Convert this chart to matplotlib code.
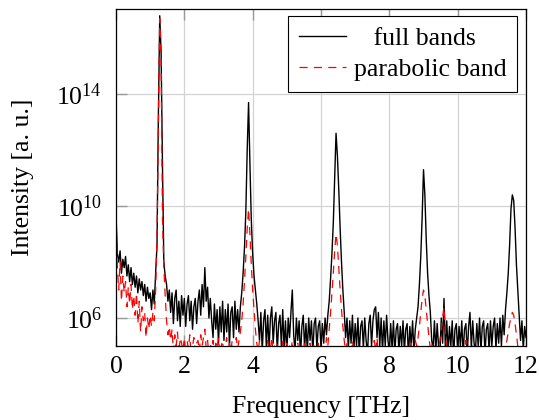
import numpy as np
import matplotlib
matplotlib.use('Agg')
import matplotlib.pyplot as plt

# FONTES (serif tipo Times)
plt.rcParams['font.family'] = ['Liberation Serif', 'DejaVu Serif']
plt.rcParams['mathtext.fontset'] = 'custom'
plt.rcParams['mathtext.rm'] = 'Liberation Serif'
plt.rcParams['mathtext.it'] = 'Liberation Serif:italic'
plt.rcParams['font.size'] = 18.5

# FREQUENCIAS (passo 0.04 THz)
freq = np.linspace(0, 12, 301)

# INTENSIDADE - log10
log_full = [
    9.7, 8.3, 8.0, 8.4, 7.6, 8.1, 7.8, 8.2, 7.5, 7.9,
    7.3, 7.8, 7.2, 7.6, 7.1, 7.5, 6.9, 7.4, 7.0, 7.3,
    6.8, 7.2, 6.6, 7.1, 6.7, 6.9, 6.3, 7.0, 6.5, 7.6,
    8.6, 13.2, 16.8, 15.5, 11.5, 8.0, 7.5, 7.2, 6.6, 7.0,
    6.2, 6.9, 5.8, 6.7, 7.0, 5.9, 6.6, 5.7, 6.8, 6.1,
    6.7, 5.7, 6.5, 6.8, 5.9, 6.6, 5.6, 6.4, 6.7, 5.8,
    6.6, 7.0, 6.1, 7.2, 6.4, 7.8, 6.6, 7.1, 6.0, 6.7,
    5.9, 5.3, 6.5, 5.6, 6.3, 5.1, 6.4, 5.5, 6.6, 5.2,
    6.3, 5.5, 6.5, 5.0, 6.2, 6.4, 5.3, 6.6, 5.6, 6.3,
    5.5, 6.4, 6.9, 7.6, 8.5, 9.8, 12.0, 13.7, 11.5, 9.5,
    8.3, 7.5, 7.0, 6.5, 5.9, 5.2, 6.2, 4.8, 5.9, 6.3,
    5.0, 6.1, 4.9, 6.0, 6.4, 5.1, 5.9, 6.2, 4.8, 5.8,
    6.1, 5.0, 6.3, 4.9, 5.9, 4.7, 6.0, 5.3, 6.2, 7.0,
    5.4, 4.8, 6.0, 5.2, 5.9, 4.6, 5.7, 6.1, 4.9, 5.8,
    4.8, 6.0, 5.2, 5.9, 4.7, 5.8, 6.0, 4.9, 5.7, 5.9,
    4.9, 5.8, 5.1, 6.0, 5.4, 6.1, 6.6, 7.4, 8.3, 9.4,
    11.0, 12.6, 11.8, 10.6, 9.2, 8.0, 7.0, 6.2, 5.3, 6.0,
    4.9, 5.9, 5.1, 6.1, 4.8, 5.8, 5.0, 6.0, 4.7, 5.7,
    5.9, 4.9, 6.0, 5.2, 4.7, 5.8, 6.1, 5.0, 5.9, 6.3,
    6.4, 5.3, 6.2, 5.0, 6.0, 4.8, 5.9, 5.0, 6.1, 5.2,
    4.8, 5.8, 4.9, 5.9, 4.7, 5.6, 5.8, 4.8, 5.7, 5.0,
    5.9, 4.8, 5.6, 5.8, 4.6, 5.7, 5.0, 5.9, 4.8, 5.6,
    6.0, 6.4, 7.2, 8.2, 9.6, 11.3, 10.4, 8.8, 7.6, 6.8,
    6.2, 5.2, 4.9, 5.9, 4.8, 5.8, 5.0, 4.7, 6.0, 5.1,
    6.7, 4.9, 5.9, 4.8, 5.7, 5.0, 5.9, 4.6, 5.6, 5.8,
    4.8, 5.7, 5.0, 5.9, 4.7, 5.6, 5.8, 4.7, 5.7, 6.2,
    4.9, 5.9, 5.1, 4.8, 5.8, 5.0, 6.0, 4.8, 5.7, 5.9,
    4.7, 5.6, 5.8, 4.8, 5.9, 5.0, 5.7, 6.0, 4.9, 5.8,
    5.1, 6.0, 5.0, 6.1, 5.4, 6.3, 6.9, 7.6, 8.6, 9.9,
    10.4, 10.2, 9.2, 7.9, 7.0, 6.1, 5.2, 5.9, 4.9, 5.7,
    5.3,
]

log_parab = [
    9.6, 7.8, 7.0, 8.0, 6.6, 7.5, 6.9, 7.3, 6.4, 7.1,
    6.5, 7.2, 6.3, 6.8, 6.1, 6.9, 5.8, 6.6, 5.5, 6.4,
    5.9, 6.2, 5.3, 6.0, 5.6, 6.1, 5.7, 6.2, 5.9, 7.0,
    8.8, 12.8, 16.7, 15.2, 9.6, 7.8, 6.8, 5.9, 5.4, 5.7,
    5.2, 5.6, 4.8, 5.4, 5.0, 5.5, 4.7, 5.3, 5.1, 4.8,
    5.3, 4.7, 5.2, 4.9, 5.4, 4.6, 5.0, 5.3, 4.8, 5.1,
    5.2, 4.8, 5.4, 5.0, 5.3, 5.6, 4.9, 5.2, 4.7, 5.1,
    4.8, 5.2, 4.6, 5.1, 4.9, 5.3, 4.7, 5.0, 5.2, 4.6,
    5.0, 5.3, 4.7, 5.1, 4.8, 5.2, 4.6, 5.0, 5.3, 4.9,
    5.2, 5.5, 5.9, 6.5, 7.3, 8.2, 9.2, 9.9, 9.0, 7.9,
    7.0, 6.3, 5.6, 5.1, 4.8, 5.2, 4.7, 5.0, 4.6, 5.1,
    4.8, 5.2, 4.6, 4.9, 5.3, 4.7, 5.0, 4.5, 5.1, 4.8,
    5.0, 4.6, 5.2, 4.8, 4.5, 5.1, 4.7, 5.0, 4.8, 5.2,
    4.7, 5.0, 4.6, 5.1, 4.8, 4.5, 5.0, 4.7, 5.2, 4.6,
    4.9, 4.6, 5.1, 4.7, 4.5, 5.0, 4.8, 4.6, 5.1, 4.7,
    4.9, 4.6, 5.0, 4.7, 5.3, 5.0, 5.6, 6.2, 6.9, 7.6,
    8.4, 9.0, 8.6, 7.8, 7.0, 6.3, 5.7, 5.2, 4.8, 5.1,
    4.7, 5.0, 4.6, 5.2, 4.8, 4.5, 5.0, 4.7, 4.9, 4.6,
    5.0, 4.7, 4.5, 5.1, 4.8, 4.6, 5.0, 4.7, 4.9, 5.2,
    4.8, 5.3, 4.7, 5.0, 4.6, 4.9, 4.5, 5.0, 4.8, 4.6,
    4.9, 4.6, 5.0, 4.7, 4.5, 4.8, 5.0, 4.6, 4.9, 4.7,
    4.5, 4.9, 4.7, 5.0, 4.6, 4.8, 5.1, 4.7, 4.9, 5.2,
    5.0, 5.3, 5.7, 6.2, 6.7, 7.0, 6.8, 6.3, 5.8, 5.3,
    4.9, 5.1, 4.7, 5.0, 4.6, 4.8, 4.9, 5.2, 5.6, 6.0,
    6.4, 5.5, 4.9, 4.6, 5.0, 4.7, 4.5, 4.9, 4.6, 4.8,
    5.0, 4.7, 4.5, 4.8, 4.6, 4.9, 5.2, 4.7, 4.5, 4.8,
    4.6, 5.0, 4.7, 4.5, 4.9, 4.6, 4.8, 5.0, 4.7, 4.5,
    4.8, 4.6, 4.9, 4.7, 4.5, 4.8, 5.0, 4.6, 4.9, 4.7,
    4.5, 4.8, 4.6, 4.9, 4.7, 5.0, 5.2, 5.5, 5.8, 6.0,
    6.2, 6.1, 5.8, 5.4, 5.0, 4.8, 4.6, 4.9, 4.5, 4.7,
    4.6,
]

full = 10.0 ** np.array(log_full)
parab = 10.0 ** np.array(log_parab)

xticks = [0, 2, 4, 6, 8, 10, 12]
yticks = [1e6, 1e10, 1e14]
ytick_labels = [r'$10^{6}$', r'$10^{10}$', r'$10^{14}$']

fig = plt.figure(figsize=(5.39, 4.20), dpi=100)
ax = fig.add_axes([0.2152, 0.1762, 0.7607, 0.8024])

ax.plot(freq, full, color='black', lw=1.0, label='   full bands')
ax.plot(freq, parab, color='red', lw=0.9, dashes=(6.5, 5), label='parabolic band')

ax.set_yscale('log')
ax.set_xlim(0, 12)
ax.set_ylim(1e5, 1.1e17)
ax.set_xticks(xticks)
ax.set_xticklabels([str(t) for t in xticks])
ax.set_yticks(yticks)
ax.set_yticklabels(ytick_labels)
ax.yaxis.set_minor_locator(matplotlib.ticker.NullLocator())

ax.grid(True, color='#d3d3d3', lw=0.9)
ax.set_axisbelow(True)
ax.tick_params(direction='in', length=8, width=1.0, color='#999999',
               top=True, right=False)
ax.tick_params(axis='y', pad=10)
ax.tick_params(axis='x', pad=7)
for s in ax.spines.values():
    s.set_linewidth(0.9)

ax.set_xlabel('Frequency [THz]', labelpad=13)
ax.set_ylabel('Intensity [a. u.]', labelpad=16)

leg = ax.legend(loc='upper right', bbox_to_anchor=(0.979, 0.980),
                borderaxespad=0, fancybox=False, framealpha=1,
                edgecolor='black', handlelength=1.85, handletextpad=0.3,
                labelspacing=0.35, borderpad=0.42)
leg.get_frame().set_linewidth(0.8)

plt.savefig('out.png', dpi=100)
